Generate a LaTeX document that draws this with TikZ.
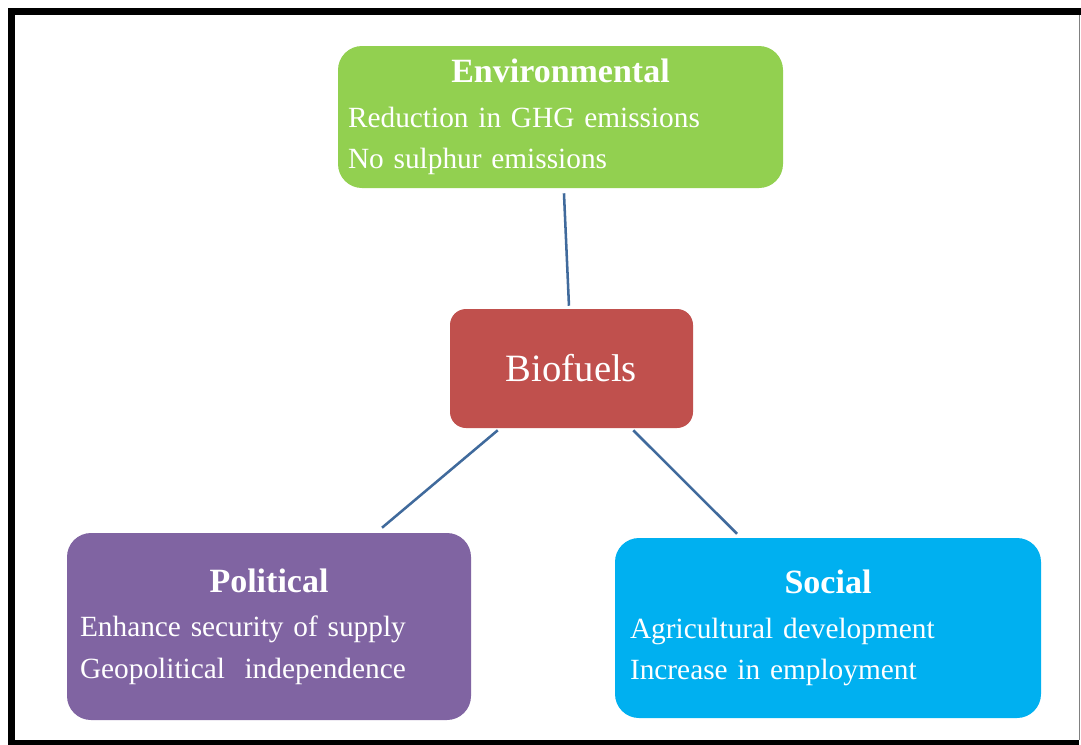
\documentclass[tikz,border=0pt]{standalone}
\usepackage{fontspec}
\setmainfont{Liberation Serif}
\definecolor{bfgreen}{RGB}{146,208,80}
\definecolor{bfred}{RGB}{192,80,77}
\definecolor{bfpurple}{RGB}{128,100,162}
\definecolor{bfblue}{RGB}{0,176,240}
\definecolor{bflink}{RGB}{64,106,156}
\newcommand{\cattitle}[1]{\makebox[\linewidth]{\fontsize{25.5}{31}\selectfont\bfseries #1}\\[2.5pt]}

\begin{document}
\begin{tikzpicture}[x=0.75pt, y=-0.75pt,
  catbox/.style={rectangle, rounded corners=18pt, text=white, align=left, inner ysep=0pt, font=\fontsize{22}{31}\selectfont},
  hub/.style={rectangle, rounded corners=12pt, fill=bfred, text=white, minimum width=182.25pt, minimum height=89.25pt, font=\fontsize{29}{34}\selectfont},
  link/.style={draw=bflink, line width=1.9pt},
  frame/.style={line width=5.25pt, line join=miter}
]
\useasboundingbox (0,0) rectangle (1081,744);
\fill[white] (0,0) rectangle (1081,744);

% Frame
\draw[frame] (1081,11) -- (11.5,11) -- (11.5,743.5) -- (1079,743.5);
\draw[gray, line width=0.75pt] (1079.5,15) -- (1079.5,740);

% Hub
\node[hub] (bio) at (571.5,368.5) {Biofuels};

% Categories
\node[catbox, fill=bfgreen, text width=318.75pt, inner xsep=7.5pt, minimum height=106.5pt] (env) at (560.5,117)
  {\cattitle{Environmental}Reduction in GHG emissions\\No sulphur emissions};
\node[catbox, fill=bfpurple, text width=283.5pt, inner xsep=9.75pt, minimum height=140.25pt] (pol) at (269,626.5)
  {\cattitle{Political}Enhance security of supply\\Geopolitical~ independence};
\node[catbox, fill=bfblue, text width=297pt, inner xsep=11.25pt, minimum height=135pt] (soc) at (828,628)
  {\cattitle{Social}Agricultural development\\Increase in employment};

% Links
\draw[link] ([xshift=2.6pt,yshift=-3.75pt]env.south) -- ([xshift=-1.9pt,yshift=2.25pt]bio.north);
\draw[link] ([xshift=36pt,yshift=-1.5pt]bio.south west) -- ([xshift=84.75pt,yshift=3.75pt]pol.north);
\draw[link] ([xshift=-45pt,yshift=-1.5pt]bio.south east) -- ([xshift=-68.25pt,yshift=3pt]soc.north);

\end{tikzpicture}
\end{document}
